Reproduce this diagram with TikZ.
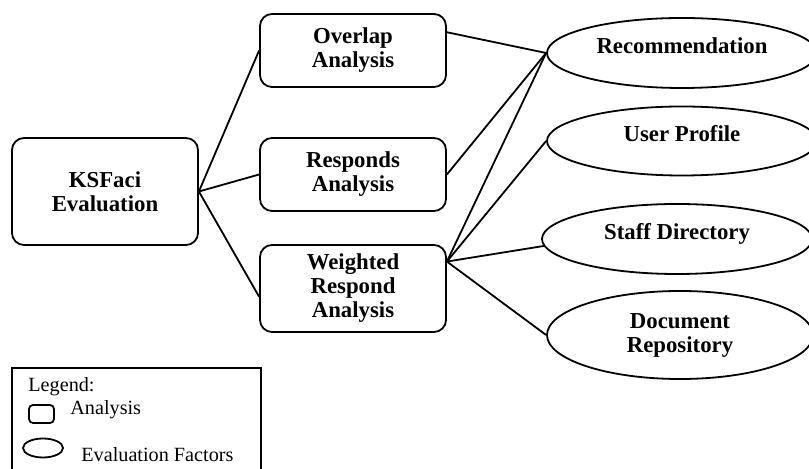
\documentclass[tikz,border=0pt]{standalone}
\usepackage{fontspec}
\setmainfont{Liberation Serif}
\usetikzlibrary{shapes.geometric}

\tikzset{
  analysis/.style={draw, line width=0.9pt, rounded corners=6pt, minimum width=93pt,
    align=center, font=\bfseries\fontsize{11.4}{12}\selectfont},
  factor/.style={draw, ellipse, line width=0.9pt, minimum width=135pt, minimum height=35pt,
    align=center, font=\bfseries\fontsize{11.4}{12}\selectfont},
  factorhigh/.style={factor, text depth=7.5pt},
  link/.style={line width=0.9pt},
  legendtext/.style={anchor=west, inner sep=0pt, font=\fontsize{10.1}{12}\selectfont},
}

\begin{document}
\begin{tikzpicture}[x=0.5pt, y=-0.5pt]
    \useasboundingbox (0,0) rectangle (809,469);

    % Analysis boxes
    \node[analysis, minimum height=53.5pt] (ksf) at (105,191.5) {KSFaci\\Evaluation};
    \node[analysis, minimum height=36.5pt] (ov) at (353,50.5) {Overlap\\Analysis};
    \node[analysis, minimum height=36.5pt] (rs) at (353,174.5) {Responds\\Analysis};
    \node[analysis, minimum height=43.5pt] (wr) at (353,288.5) {Weighted\\Respond\\Analysis};

    % Evaluation factors
    \node[factorhigh] (rec) at (682,53) {Recommendation};
    \node[factorhigh, minimum height=34.5pt] (up) at (682,141) {User Profile};
    \node[factorhigh] (sd) at (677,239) {Staff Directory};
    \node[factor, minimum width=133pt, minimum height=44pt] (dr) at (680,335) {Document\\Repository};

    % KSFaci to the analyses
    \draw[link] (ksf.east) -- (ov.west);
    \draw[link] (ksf.east) -- (rs.west);
    \draw[link] (ksf.east) -- (wr.185);

    % Analyses to the factors
    \draw[link] (ov.11) -- (rec.west);
    \draw[link] (rs.east) -- (rec.west);
    \coordinate (hub) at (wr.16);
    \draw[link] (hub) -- (rec.west);
    \draw[link] (hub) -- (up.west);
    \draw[link] (hub) -- (sd.183);
    \draw[link] (hub) -- (dr.west);

    % Legend
    \draw[line width=0.9pt] (12,368) rectangle (261,475);
    \node[legendtext] (lgd) at (28,387) {Legend:};
    \draw[line width=0.9pt, rounded corners=2pt] (29,405) rectangle (54,423);
    \node[legendtext] (lgdbox) at (70,410) {Analysis};
    \draw[line width=0.9pt] (43,448) ellipse (10pt and 4.75pt);
    \node[legendtext] (lgdell) at (81,455) {Evaluation Factors};
\end{tikzpicture}
\end{document}
